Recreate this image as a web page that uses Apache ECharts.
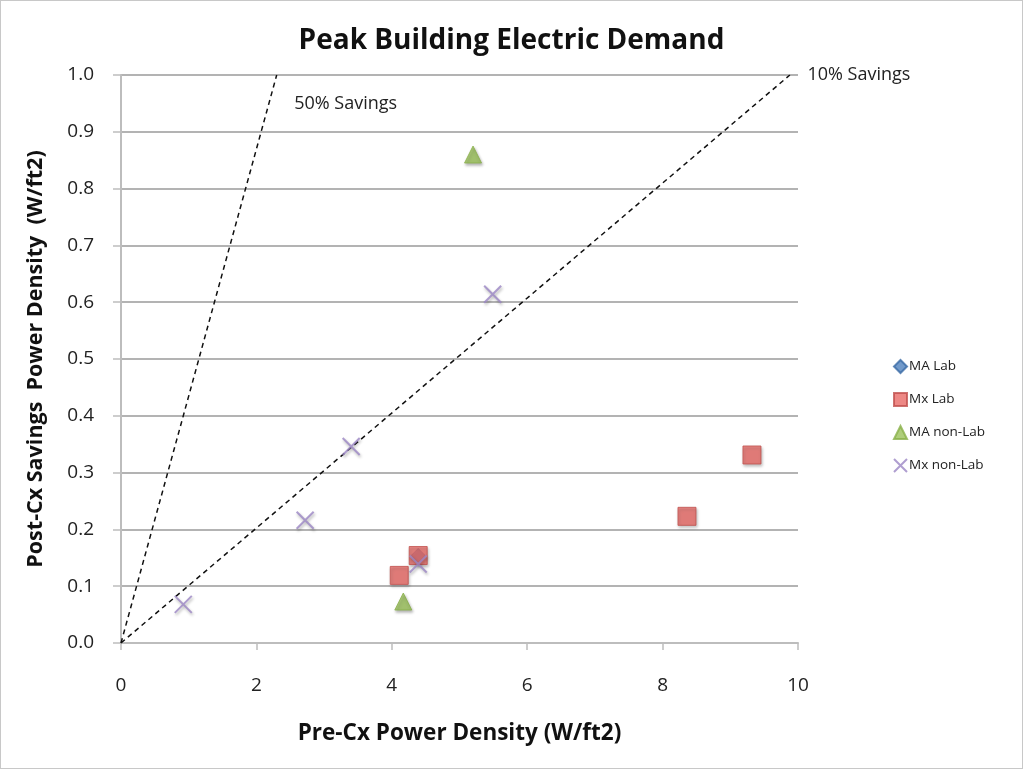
<!DOCTYPE html>
<html>
<head>
<meta charset="utf-8">
<script src="https://cdn.jsdelivr.net/npm/echarts@6/dist/echarts.min.js"></script>
<style>
html,body{margin:0;padding:0;background:#fff;}
#c{width:1023px;height:769px;box-sizing:border-box;border:1px solid #c8c8c8;}
</style>
</head>
<body>
<div id="c"></div>
<script>
var titleText = 'Peak Building Electric Demand';
var xName = 'Pre-Cx Power Density (W/ft2)';
var yName = 'Post-Cx Savings  Power Density  (W/ft2)';
var seriesNames = ['MA Lab', 'Mx Lab', 'MA non-Lab', 'Mx non-Lab'];
var maLab = [[4.39, 0.154]];
var mxLab = [[4.11, 0.119], [4.39, 0.154], [8.36, 0.223], [9.32, 0.331]];
var maNonLab = [[5.2, 0.86], [4.17, 0.073]];
var mxNonLab = [[0.92, 0.068], [2.72, 0.216], [3.40, 0.346], [4.39, 0.139], [5.49, 0.614]];
var line50 = [[0, 0], [2.3, 1.0]];
var line10 = [[0, 0], [9.88, 1.0]];
var line50Label = '50% Savings';
var line10Label = '10% Savings';

var FONT = '"Open Sans", sans-serif';
var chart = echarts.init(document.getElementById('c'), null, {renderer: 'canvas'});
var shadow = {shadowBlur: 3, shadowColor: 'rgba(0,0,0,0.35)', shadowOffsetX: 1, shadowOffsetY: 2};
var crossPath = 'path://M0,0L10,10M10,0L0,10';

function endLabel(data, text, lab) {
  return data.map(function (p, i) {
    if (i === data.length - 1) {
      return {value: p, label: Object.assign({show: true, formatter: text, color: '#222', fontFamily: FONT, fontSize: 18}, lab)};
    }
    return p;
  });
}

var lineCommon = {
  type: 'line', symbol: 'circle', symbolSize: 1, showSymbol: true, silent: true,
  itemStyle: {color: 'rgba(0,0,0,0)'},
  lineStyle: {color: '#111', width: 1.5, type: [5, 4]}, z: 1
};

chart.setOption({
  animation: false,
  backgroundColor: '#fff',
  title: {
    text: titleText, left: 'center', top: 21,
    textStyle: {fontFamily: FONT, fontWeight: 'bold', fontSize: 28, color: '#111'}
  },
  grid: {left: 120, right: 224, top: 74, bottom: 125, containLabel: false},
  legend: {
    orient: 'vertical', left: 887, top: 353, itemGap: 18, itemWidth: 13, itemHeight: 13,
    data: seriesNames,
    textStyle: {fontFamily: FONT, fontSize: 13.5, color: '#222', padding: [0, 0, 0, -3]}
  },
  xAxis: {
    type: 'value', min: 0, max: 10, interval: 2,
    name: xName, nameLocation: 'middle', nameGap: 79,
    nameTextStyle: {fontFamily: FONT, fontWeight: 'bold', fontSize: 22.5, color: '#111'},
    axisLine: {show: true, lineStyle: {color: '#bdbdbd', width: 2}},
    axisTick: {show: true, length: 7, lineStyle: {color: '#bdbdbd', width: 1.5}},
    axisLabel: {fontFamily: FONT, fontSize: 19, color: '#222', margin: 33},
    splitLine: {show: false}
  },
  yAxis: {
    type: 'value', min: 0, max: 1, interval: 0.1,
    name: yName, nameLocation: 'middle', nameGap: 74,
    nameTextStyle: {fontFamily: FONT, fontWeight: 'bold', fontSize: 21.5, color: '#111'},
    axisLine: {show: true, lineStyle: {color: '#bdbdbd', width: 2}},
    axisTick: {show: true, length: 8, lineStyle: {color: '#bdbdbd', width: 1.5}},
    axisLabel: {fontFamily: FONT, fontSize: 19, color: '#222', margin: 27, formatter: function (v) { return v.toFixed(1); }},
    splitLine: {show: true, lineStyle: {color: '#b3b3b3', width: 2}}
  },
  series: [
    Object.assign({name: '50line', data: endLabel(line50, line50Label, {position: 'right', offset: [12, 29]})}, lineCommon),
    Object.assign({name: '10line', data: endLabel(line10, line10Label, {position: 'right', offset: [12, 0]})}, lineCommon),
    {
      type: 'scatter', name: seriesNames[0], data: maLab, symbol: 'diamond', symbolSize: 14,
      itemStyle: Object.assign({color: '#4f81bd', borderColor: '#3a6aa5', borderWidth: 1}, shadow), z: 2
    },
    {
      type: 'scatter', name: seriesNames[1], data: mxLab, symbol: 'rect', symbolSize: 18,
      itemStyle: Object.assign({color: '#e96a67', borderColor: '#c0504d', borderWidth: 1}, shadow), z: 3
    },
    {
      type: 'scatter', name: seriesNames[2], data: maNonLab, symbol: 'triangle', symbolSize: 17,
      itemStyle: Object.assign({color: '#9bc25a', borderColor: '#8ab04a', borderWidth: 1}, shadow), z: 4
    },
    {
      type: 'scatter', name: seriesNames[3], data: mxNonLab, symbol: crossPath, symbolSize: 17,
      itemStyle: Object.assign({color: 'transparent', borderColor: '#9b86c4', borderWidth: 2}, shadow), z: 5
    }
  ]
});
</script>
</body>
</html>
